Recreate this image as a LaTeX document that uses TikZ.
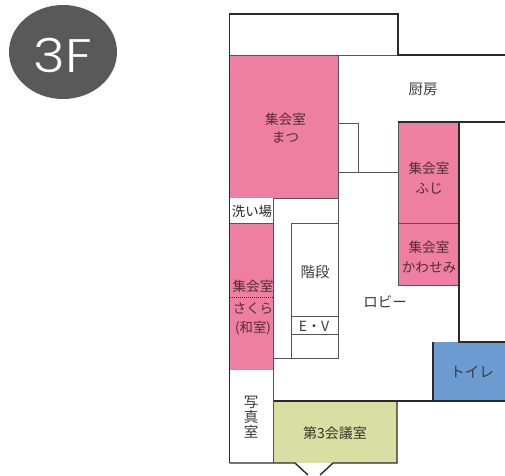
\documentclass[tikz,border=0pt]{standalone}
\usepackage{fontspec}
\setmainfont{Noto Sans CJK JP}
\newfontfamily\latinfont[FakeStretch=1.15]{Poppins Light}
\definecolor{pinkroom}{HTML}{EE7FA3}
\definecolor{blueroom}{HTML}{6C9BD2}
\definecolor{greenroom}{HTML}{D7E0A2}
\definecolor{badge}{HTML}{595959}
\definecolor{wallc}{HTML}{2A2A2A}
\definecolor{thin}{HTML}{555555}
\definecolor{labelc}{HTML}{3A3A3A}
\tikzset{
  wall/.style={draw=wallc,line width=1.4pt},
  thinwall/.style={draw=thin,line width=0.9pt},
  room/.style={font=\fontsize{14.5}{18}\selectfont,text=labelc,align=center,inner sep=0pt},
  pinklabel/.style={room,font=\fontsize{13.6}{20}\selectfont,text=pinkroom!35!black},
}
\begin{document}
\begin{tikzpicture}[x=1pt,y=-1pt]
\useasboundingbox (0,0) rectangle (505,475);
% badge
\fill[badge] (63,52) ellipse [x radius=54,y radius=47];
\node[font=\latinfont\fontsize{47}{47}\selectfont,text=white,inner sep=0pt] (badgetext) at (63,55) {3F};
% coloured rooms
\fill[pinkroom] (230,55) rectangle (338,198);
\fill[pinkroom] (398,122) rectangle (459,285);
\fill[pinkroom] (230,223) rectangle (273,370);
\fill[blueroom] (433,342) rectangle (505,401);
\fill[greenroom] (273,402) rectangle (397,463);
% thin walls
\draw[thinwall] (230,55) -- (398,55);
\draw[thinwall] (338,55) -- (338,123) -- (358,123) -- (358,172);
\draw[thinwall] (338,123) -- (338,358) -- (274,358);
\draw[thinwall] (338,172) -- (398,172);
\draw[thinwall] (273,198) -- (338,198);
\draw[thinwall] (230,223) -- (273,223) -- (273,463);
\draw[thinwall] (291,358) -- (291,223) -- (338,223);
\draw[thinwall] (291,316) -- (338,316);
\draw[thinwall] (291,334) -- (338,334);
\draw[thinwall] (398,122) -- (398,285) -- (459,285);
\draw[thinwall] (398,223) -- (459,223);
\draw[thinwall] (273,198) -- (273,223);
% thick walls
\draw[wall] (229.5,463) -- (229.5,14) -- (398,14) -- (398,55) -- (505,55);
\draw[wall] (398,122) -- (505,122);
\draw[wall] (459,122) -- (459,342) -- (505,342);
\draw[wall] (433,342) -- (433,401);
\draw[wall] (274,401) -- (505,401);
\draw[wall] (397,401) -- (397,463) -- (333,463) -- (320,475);
\draw[wall] (229.5,463) -- (295,463) -- (308,475);
% dotted divider
\draw[draw=black!70!pinkroom,line width=1pt,densely dotted] (230,297) -- (273,297);
% labels
\node[room] (kitchen) at (423,89) {厨房};
\node[pinklabel,font=\fontsize{13.6}{18}\selectfont] (matsu) at (285.5,128) {集会室\\まつ};
\node[pinklabel] (fuji) at (429,178) {集会室\\ふじ};
\node[pinklabel] (kawasemi) at (429,257) {集会室\\かわせみ};
\node[room,font=\fontsize{13.4}{15}\selectfont,text=black!85] (wash) at (252,211) {洗い場};
\node[pinklabel] (sakura1) at (253,286) {集会室};
\node[pinklabel,font=\fontsize{13.4}{19}\selectfont] (sakura2) at (253,318.5) {さくら\\(和室)};
\node[room] (stairs) at (315,272) {階段};
\node[room,font=\fontsize{14}{14}\selectfont] (ev) at (314,326) {E・V};
\node[room] (lobby) at (385,302) {ロビー};
\node[room] (toilet) at (472,372) {トイレ};
\node[room,font=\fontsize{14.5}{15}\selectfont] (photo) at (251,417) {写\\真\\室};
\node[room,font=\fontsize{14}{15}\selectfont,text=black!60!greenroom!60!black] (third) at (335,433) {第3会議室};
\end{tikzpicture}
\end{document}
